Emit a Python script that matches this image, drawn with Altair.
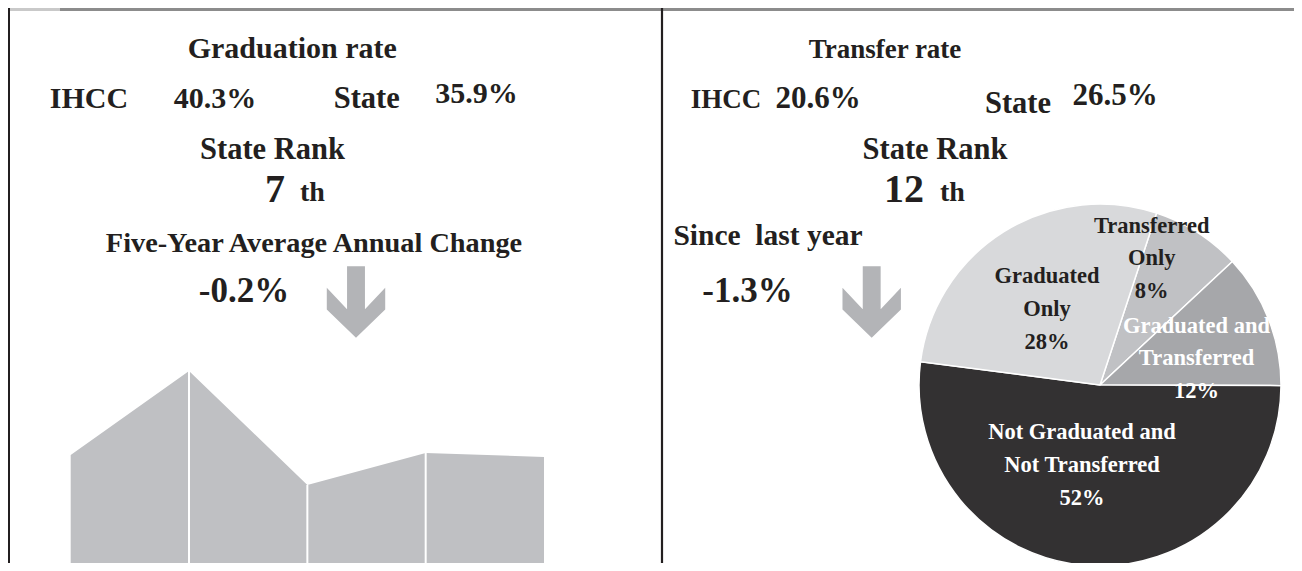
import math
import altair as alt
import pandas as pd

# ---------------- data ----------------
# Graduation-rate trend (five cohorts, unlabeled in the source)
years = [2012, 2013, 2014, 2015, 2016]
grad_rates = [40.4, 44.6, 38.9, 40.5, 40.3]

# Headline figures
grad_ihcc, grad_state, grad_rank, grad_change = "40.3%", "35.9%", "7", "-0.2%"
trans_ihcc, trans_state, trans_rank, trans_change = "20.6%", "26.5%", "12", "-1.3%"

# Outcome pie
outcomes = ["Transferred Only", "Graduated and Transferred",
            "Not Graduated and Not Transferred", "Graduated Only"]
outcome_lines = [["Transferred", "Only"], ["Graduated and", "Transferred"],
                 ["Not Graduated and", "Not Transferred"], ["Graduated", "Only"]]
outcome_pct = [8, 12, 52, 28]

# ---------------- style ----------------
FONT = "Liberation Serif"
INK = "#231f20"
AREA_GRAY = "#bfc0c3"
ARROW_GRAY = "#b3b4b7"
PIE_COLORS = ["#c0c1c4", "#a6a7aa", "#333132", "#d8d9db"]
W, H = 1286, 555
START = math.radians(18.2)

one = pd.DataFrame({"k": [0]})


def txt(text, x, y, size, color=INK, align="center"):
    return alt.Chart(one).mark_text(
        text=text, font=FONT, fontWeight="bold", fontSize=size, color=color,
        align=align, baseline="alphabetic"
    ).encode(x=alt.value(x), y=alt.value(y))


def multiline(lines, x, y, size, color):
    return alt.Chart(one).mark_text(
        text=lines, font=FONT, fontWeight="bold", fontSize=size, color=color,
        align="center", baseline="alphabetic", lineHeight=32.8
    ).encode(x=alt.value(x), y=alt.value(y))


ARROW = ("M -0.25 -1 L 0.25 -1 L 0.25 0.2 L 0.816 -0.397 L 0.816 0.21 "
         "L 0 1 L -0.816 0.21 L -0.816 -0.397 L -0.25 0.2 Z")


def arrow(x, y):
    return alt.Chart(one).mark_point(
        shape=ARROW, size=5127, filled=True, color=ARROW_GRAY, opacity=1, strokeWidth=0
    ).encode(x=alt.value(x), y=alt.value(y))


def vrule(x, color, width):
    return alt.Chart(one).mark_rule(color=color, strokeWidth=width).encode(
        x=alt.value(x), y=alt.value(0), y2=alt.value(H))


# ---------------- area trend ----------------
trend = pd.DataFrame({"year": years, "rate": grad_rates})
xs = alt.Scale(domain=[years[0], years[-1]], range=[62.7, 536])
ys = alt.Scale(domain=[34.8, 44.8], range=[559, 359], zero=False)
area = alt.Chart(trend).mark_area(color=AREA_GRAY, opacity=1).encode(
    x=alt.X("year:Q", scale=xs, axis=None),
    y=alt.Y("rate:Q", scale=ys, axis=None),
    y2=alt.datum(34.8),
)
seps = alt.Chart(trend[1:-1]).mark_rule(color="white", strokeWidth=2).encode(
    x=alt.X("year:Q", scale=xs, axis=None),
    y=alt.Y("rate:Q", scale=ys, axis=None),
    y2=alt.datum(34.8),
)

# ---------------- pie ----------------
pie_df = pd.DataFrame({"outcome": outcomes, "pct": outcome_pct,
                       "idx": list(range(len(outcomes)))})
pie = alt.Chart(pie_df).mark_arc(outerRadius=181, stroke="white", strokeWidth=1.5).encode(
    theta=alt.Theta("pct:Q", stack=True,
                    scale=alt.Scale(range=[START, START + 2 * math.pi])),
    color=alt.Color("outcome:N", scale=alt.Scale(domain=outcomes, range=PIE_COLORS),
                    legend=None),
    order=alt.Order("idx:Q"),
    x=alt.value(1092), y=alt.value(377),
)

label_pos = [(1143.7, 224.7, INK), (1188.5, 324.7, "white"),
             (1074, 431.3, "white"), (1039, 275.3, INK)]
pie_labels = [
    multiline(outcome_lines[i] + [f"{outcome_pct[i]}%"], px, py, 22.5, col)
    for i, (px, py, col) in enumerate(label_pos)
]

# ---------------- frame ----------------
frame = [
    alt.Chart(one).mark_rule(color="#8c8c8c", strokeWidth=3).encode(
        x=alt.value(0), x2=alt.value(W), y=alt.value(1.5)),
    alt.Chart(one).mark_rule(color="#c9c9c9", strokeWidth=3).encode(
        x=alt.value(0), x2=alt.value(52), y=alt.value(1.5)),
    vrule(1, "#231f20", 2),
    vrule(654, "#231f20", 2.2),
]

texts = [
    # left panel
    txt("Graduation rate", 284.3, 50, 30),
    txt("IHCC", 81, 100, 30),
    txt(grad_ihcc, 207, 100, 30),
    txt("State", 358.7, 100, 30.5),
    txt(grad_state, 468.5, 95, 30),
    txt("State Rank", 264.5, 151, 30.5),
    txt(grad_rank, 267, 193.5, 40),
    txt("th", 304.5, 193, 28),
    txt("Five-Year Average Annual Change", 306, 243.7, 28.3),
    txt(grad_change, 236, 293.7, 35),
    # right panel
    txt("Transfer rate", 877, 50, 27),
    txt("IHCC", 718, 100, 27),
    txt(trans_ihcc, 810, 100, 31),
    txt("State", 1010, 105, 30.5),
    txt(trans_state, 1107, 97, 31),
    txt("State Rank", 927, 151, 30.5),
    txt(trans_rank, 896, 193.5, 40),
    txt("th", 944.5, 193, 28),
    txt("Since\u00a0 last year", 760, 237, 29.5),
    txt(trans_change, 739.5, 293.7, 35),
]

chart = alt.layer(
    area, seps, pie, *pie_labels, arrow(348, 294), arrow(863.7, 294), *texts, *frame
).properties(
    width=W, height=H, padding=0, autosize=alt.AutoSizeParams(type="none"),
    background="white",
).configure_view(stroke=None)

chart.save("out.html", embed_options={"renderer": "svg", "actions": False})
